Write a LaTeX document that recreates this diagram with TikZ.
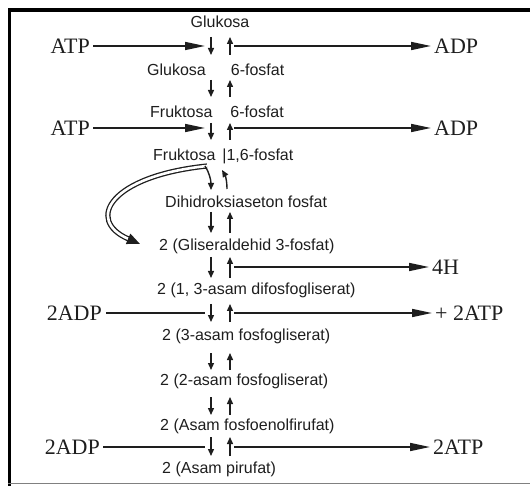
\documentclass[tikz,border=0pt]{standalone}
\usepackage{fontspec}
\setmainfont{Liberation Serif}
\setsansfont{Liberation Sans}
\usetikzlibrary{arrows.meta}
\definecolor{ink}{HTML}{1E1E1E}

\begin{document}
\begin{tikzpicture}[x=1pt,y=-1pt,
  met/.style={font=\sffamily\fontsize{16}{18}\selectfont,text=ink,inner sep=0pt,anchor=west},
  side/.style={font=\fontsize{22}{24}\selectfont,text=ink,inner sep=0pt},
  harrow/.style={draw=ink,line width=1.6pt,-{Triangle[length=20pt,width=8pt]}},
  hline/.style={draw=ink,line width=1.6pt},
  vdown/.style={draw=ink,line width=1.4pt,-{Triangle[length=7pt,width=6pt]}}]
\useasboundingbox (0,0) rectangle (530,486);
% frame
\draw[line width=3.5pt] (9.5,486) -- (9.5,10) -- (530,10);
\draw[gray,line width=1pt] (8,483.5) -- (530,483.5);

% metabolites
\node[met,anchor=center] (glu) at (220,22) {Glukosa};
\node[met] (g6p) at (147,70) {Glukosa\hspace{25pt}6-fosfat};
\node[met] (f6p) at (150,112) {Fruktosa\hspace{18pt}6-fosfat};
\node[met] (f16p) at (153,156) {Fruktosa\hspace{7pt}\textbar1,6-fosfat};
\node[met] (dhap) at (165,202) {Dihidroksiaseton fosfat};
\node[met] (gap) at (159,246) {2 (Gliseraldehid 3-fosfat)};
\node[met] (bpg) at (157,290) {2 (1, 3-asam difosfogliserat)};
\node[met] (pg3) at (162,336) {2 (3-asam fosfogliserat)};
\node[met] (pg2) at (160,381) {2 (2-asam fosfogliserat)};
\node[met] (pep) at (160,426) {2 (Asam fosfoenolfirufat)};
\node[met] (pyr) at (162,469) {2 (Asam pirufat)};

% cofactors
\node[side,anchor=east] (atpA) at (90,46) {ATP};
\node[side,anchor=west] (adpA) at (434,46) {ADP};
\node[side,anchor=east] (atpB) at (90,128) {ATP};
\node[side,anchor=west] (adpB) at (434,128) {ADP};
\node[side,anchor=west] (hyd) at (432,267) {4H};
\node[side,anchor=east] (adpC) at (102,313) {2ADP};
\node[side,anchor=west] (atpC) at (435,313) {+ 2ATP};
\node[side,anchor=east] (adpD) at (100,447) {2ADP};
\node[side,anchor=west] (atpD) at (433,447) {2ATP};

\coordinate (inA) at (205,46);  \coordinate (outA) at (234,46);
\coordinate (inB) at (205,128); \coordinate (outB) at (234,128);
\coordinate (outH) at (234,267);
\coordinate (inC) at (205,313); \coordinate (outC) at (234,313);
\coordinate (inD) at (205,447); \coordinate (outD) at (234,447);

\draw[harrow,shorten <=3pt] (atpA.east) -- (inA);
\draw[harrow,shorten >=3pt] (outA) -- (adpA.west);
\draw[harrow,shorten <=3pt] (atpB.east) -- (inB);
\draw[harrow,shorten >=3pt] (outB) -- (adpB.west);
\draw[harrow,shorten >=3pt] (outH) -- (hyd.west);
\draw[hline,shorten <=4pt] (adpC.east) -- (inC);
\draw[harrow,shorten >=3pt] (outC) -- (atpC.west);
\draw[hline,shorten <=3pt] (adpD.east) -- (inD);
\draw[harrow,shorten >=3pt] (outD) -- (atpD.west);

% reversible steps
\foreach \ya/\yb in {37/55,80/97,123/140,212/233,257/278,304/322,353/370,397/415,437/456}
{ \draw[vdown] (211,\ya) -- (211,\yb);
  \draw[vdown] (230,\yb) -- (230,\ya); }

% split of fructose 1,6-bisphosphate
\draw[draw=ink,line width=1.3pt,double=white,double distance=2.6pt,-{Triangle[length=13pt,width=11pt,fill=ink]}] (207,166) .. controls (110,176) and (85,220) .. (140,244);
\draw[vdown] (205,166) .. controls (209,172) and (211,180) .. (211,190);
\draw[vdown] (227,189) .. controls (227,180) and (225,175) .. (222,170);
\end{tikzpicture}
\end{document}
